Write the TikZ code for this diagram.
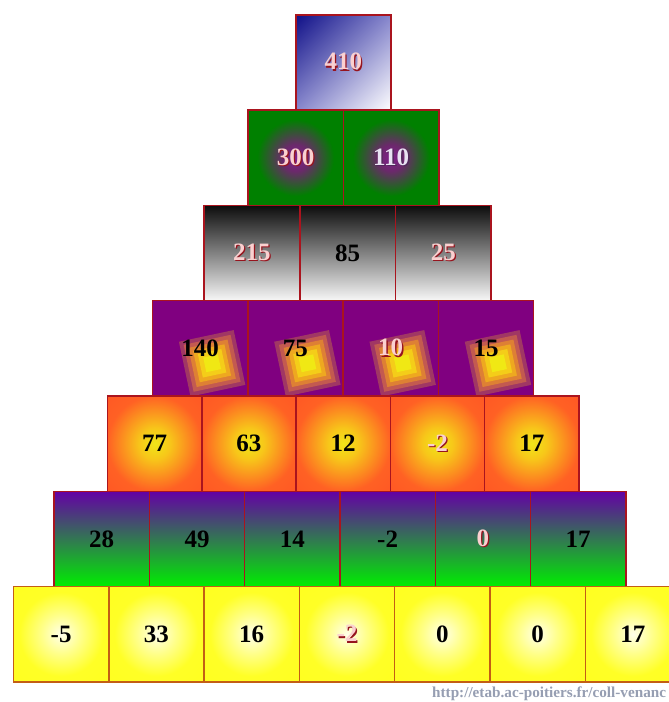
\documentclass[tikz,border=0pt]{standalone}
\usepackage{fontspec}
\setmainfont{Liberation Serif}
\usepackage{tikz}
\usetikzlibrary{positioning,shadings}

\definecolor{edgered}{RGB}{170,20,30}
\definecolor{edgebrown}{RGB}{195,95,20}
\definecolor{navy}{RGB}{15,15,135}
\definecolor{midblue}{RGB}{135,135,205}
\definecolor{pinktxt}{RGB}{250,208,208}
\definecolor{shadowred}{RGB}{150,20,30}
\definecolor{lavtxt}{RGB}{232,226,242}
\definecolor{shadowgray}{RGB}{80,40,90}
\definecolor{toppurple}{RGB}{100,0,165}
\definecolor{lowgreen}{RGB}{0,238,0}
\definecolor{violetbg}{RGB}{128,0,128}
\definecolor{urlgray}{RGB}{150,158,178}
\definecolor{sqa}{RGB}{160,55,100}
\definecolor{sqb}{RGB}{195,90,80}
\definecolor{sqc}{RGB}{222,128,52}
\definecolor{sqd}{RGB}{238,168,32}
\definecolor{sqe}{RGB}{244,205,25}
\definecolor{sqf}{RGB}{240,232,20}

\pgfdeclareradialshading{greenvio}{\pgfpointorigin}{rgb(0bp)=(0.50,0.12,0.55); rgb(7bp)=(0.42,0.16,0.42); rgb(20bp)=(0,0.5,0); rgb(50bp)=(0,0.5,0)}
\pgfdeclareradialshading{sunset}{\pgfpointorigin}{rgb(0bp)=(0.94,0.90,0.10); rgb(8bp)=(0.97,0.78,0.10); rgb(25bp)=(1,0.38,0.14); rgb(50bp)=(1,0.30,0.14)}
\pgfdeclareradialshading{paleyel}{\pgfpointorigin}{rgb(0bp)=(1,1,0.92); rgb(10bp)=(1,1,0.55); rgb(22bp)=(1,1,0.15); rgb(50bp)=(1,1,0.1)}

% number with a red drop shadow
\newcommand\pk[1]{\makebox[0pt][l]{\hspace{1.3pt}\raisebox{-1.3pt}{\textcolor{shadowred}{#1}}}\textcolor{pinktxt}{#1}}
\newcommand\lv[1]{\makebox[0pt][l]{\hspace{1.3pt}\raisebox{-1.3pt}{\textcolor{shadowgray}{#1}}}\textcolor{lavtxt}{#1}}

\tikzset{
  cell/.style={draw=edgered, line width=1.5pt, inner sep=0pt, anchor=north west,
    minimum width=95.3pt, minimum height=95.3pt,
    font=\fontsize{25}{30}\selectfont\bfseries, text=black},
  bluecell/.style={cell, upper left=navy, upper right=midblue, lower left=midblue, lower right=white},
  greencell/.style={cell, shade, shading=greenvio, minimum width=95.6pt},
  greycell/.style={cell, top color=black!95, bottom color=white!97!black, minimum width=95.7pt},
  tiltcell/.style={cell, fill=violetbg},
  suncell/.style={cell, shade, shading=sunset, minimum width=94.3pt},
  mixcell/.style={cell, top color=toppurple, bottom color=lowgreen},
  yelcell/.style={cell, shade, shading=paleyel, draw=edgebrown},
  numtext/.style={inner sep=0pt, font=\fontsize{25}{30}\selectfont\bfseries, text=black},
  urltext/.style={font=\fontsize{15.2}{17}\selectfont\bfseries, text=urlgray, inner sep=0pt}
}

\begin{document}
\begin{tikzpicture}[x=1pt, y=-1pt]
  \useasboundingbox (0,0) rectangle (669,702);
  \fill[white] (0,0) rectangle (669,702);
  \clip (0,0) rectangle (669,702);

  % top
  \node[bluecell] (b11) at (295,14) {\pk{410}};
  % second row
  \node[greencell] (b21) at (247,109.3) {\pk{300}};
  \node[greencell] (b22) at (342.6,109.3) {\lv{110}};
  % third row
  \node[greycell] (b31) at (203.3,204.6) {\pk{215}};
  \node[greycell] (b32) at (299,204.6) {85};
  \node[greycell] (b33) at (394.7,204.6) {\pk{25}};
  % fourth row, tilted squares under the numbers
  \node[tiltcell] (b41) at (151.7,299.9) {};
  \node[tiltcell] (b42) at (247,299.9) {};
  \node[tiltcell] (b43) at (342.3,299.9) {};
  \node[tiltcell] (b44) at (437.6,299.9) {};
  \foreach \b in {b41,b42,b43,b44}
    \foreach \s/\c in {56/sqa,48/sqb,40/sqc,32/sqd,24/sqe,15/sqf}
      \fill[\c, shift={([shift={(12,15)}]\b.center)}, rotate=12]
        (-\s/2,-\s/2) rectangle (\s/2,\s/2);
  \node[numtext] (t41) at (b41.center) {140};
  \node[numtext] (t42) at (b42.center) {75};
  \node[numtext] (t43) at (b43.center) {\pk{10}};
  \node[numtext] (t44) at (b44.center) {15};
  % fifth row
  \node[suncell] (b51) at (106.7,395.2) {77};
  \node[suncell] (b52) at (201,395.2) {63};
  \node[suncell] (b53) at (295.3,395.2) {12};
  \node[suncell] (b54) at (389.6,395.2) {\pk{-2}};
  \node[suncell] (b55) at (483.9,395.2) {17};
  % sixth row
  \node[mixcell] (b61) at (53.3,490.5) {28};
  \node[mixcell] (b62) at (148.6,490.5) {49};
  \node[mixcell] (b63) at (243.9,490.5) {14};
  \node[mixcell] (b64) at (339.2,490.5) {-2};
  \node[mixcell] (b65) at (434.5,490.5) {\pk{0}};
  \node[mixcell] (b66) at (529.8,490.5) {17};
  % bottom row
  \node[yelcell] (b71) at (12.7,585.8) {-5};
  \node[yelcell] (b72) at (108,585.8) {33};
  \node[yelcell] (b73) at (203.3,585.8) {16};
  \node[yelcell] (b74) at (298.6,585.8) {\pk{-2}};
  \node[yelcell] (b75) at (393.9,585.8) {0};
  \node[yelcell] (b76) at (489.2,585.8) {0};
  \node[yelcell] (b77) at (584.5,585.8) {17};

  \node[urltext, anchor=base west] (url) at (432,697) {http://etab.ac-poitiers.fr/coll-venanc};
\end{tikzpicture}
\end{document}
